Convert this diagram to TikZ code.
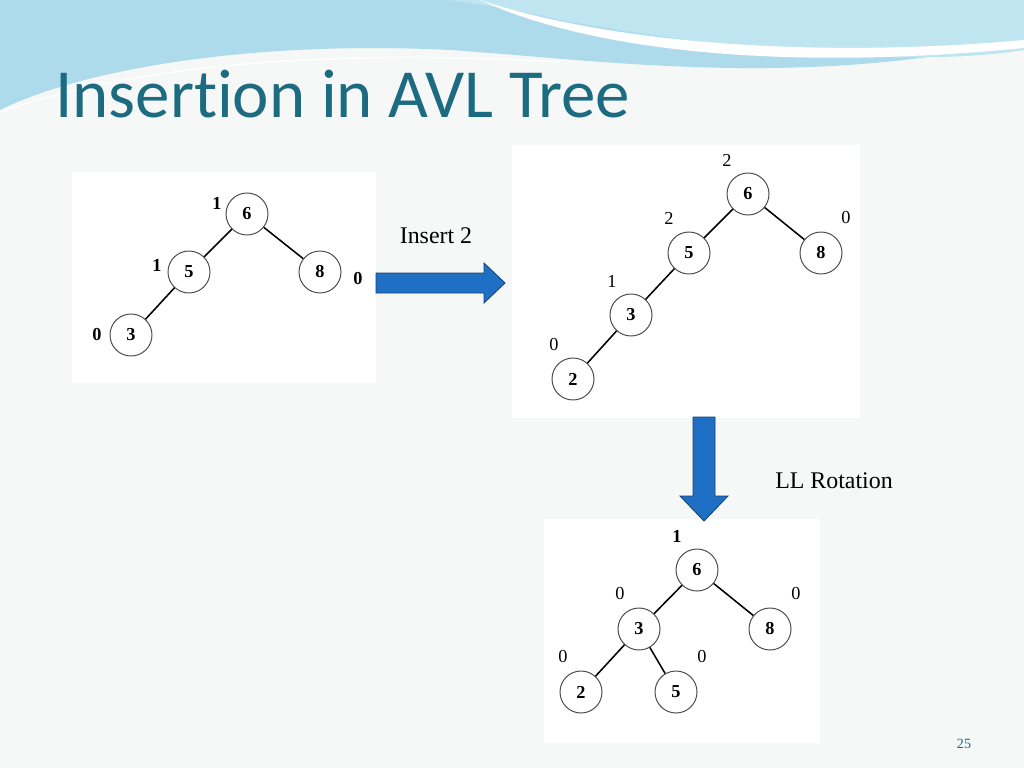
\documentclass[tikz,border=0pt]{standalone}
\usepackage{fontspec}
\setmainfont{Liberation Serif}
\newfontfamily\titlefont[Ligatures={NoCommon,NoDiscretionary}]{Carlito}
\definecolor{bg}{HTML}{F6F7F7}
\definecolor{titlec}{HTML}{1C6B80}
\definecolor{arrowc}{HTML}{1F6FC4}
\definecolor{waveA}{HTML}{8CCBE3}
\definecolor{waveB}{HTML}{BFE6F0}
\tikzset{
  tn/.style={circle,draw=black!70,line width=0.7pt,fill=white,minimum size=42*0.025cm,inner sep=0pt,font=\fontsize{13}{13}\selectfont\bfseries},
  bl/.style={font=\fontsize{13}{13}\selectfont\bfseries,inner sep=0pt},
  rl/.style={font=\fontsize{13}{13}\selectfont,inner sep=0pt},
  ed/.style={line width=1.1pt,black},
  panel/.style={fill=white,draw=none},
  bigarrow/.style={fill=arrowc,draw=arrowc!60!black,line width=0.6pt}
}
\begin{document}
\begin{tikzpicture}[x=0.025cm,y=-0.025cm]
\fill[bg] (0,0) rectangle (1024,768);
\useasboundingbox (0,0) rectangle (1024,768);
% top waves
\fill[waveA!70] (0,0) -- (1024,0) -- (1024,40) .. controls (800,90) and (600,60) .. (450,50) .. controls (250,40) and (80,70) .. (0,110) -- cycle;
\fill[waveB] (450,0) -- (1024,0) -- (1024,50) .. controls (900,70) and (700,45) .. (560,20) .. controls (520,10) and (480,5) .. (450,0) -- cycle;
\fill[white] (480,0) .. controls (600,40) and (800,60) .. (1024,40) -- (1024,48) .. controls (800,70) and (600,55) .. (480,0) -- cycle;
\draw[white,line width=1pt] (0,112) .. controls (150,60) and (350,50) .. (560,62);
\node[anchor=base west,text=titlec,inner sep=0pt,font=\titlefont\fontsize{49}{49}\selectfont] (title) at (55,118) {Insertion in AVL Tree};
% panels
\fill[panel] (72,172) rectangle (376,383);
\fill[panel] (512,145) rectangle (860,418);
\fill[panel] (544,519) rectangle (820,743);
% tree 1
\node[tn] (a6) at (247,214) {6};
\node[tn] (a5) at (189,272) {5};
\node[tn] (a8) at (320,272) {8};
\node[tn] (a3) at (131,335) {3};
\draw[ed] (a6) -- (a5); \draw[ed] (a6) -- (a8); \draw[ed] (a5) -- (a3);
\node[bl] (la6) at (217,203) {1};
\node[bl] (la5) at (157,265) {1};
\node[bl] (la8) at (358,279) {0};
\node[bl] (la3) at (97,335) {0};
% tree 2
\node[tn] (b6) at (748,194) {6};
\node[tn] (b5) at (689,253) {5};
\node[tn] (b8) at (821,253) {8};
\node[tn] (b3) at (631,315) {3};
\node[tn] (b2) at (573,379) {2};
\draw[ed] (b6) -- (b5); \draw[ed] (b6) -- (b8); \draw[ed] (b5) -- (b3); \draw[ed] (b3) -- (b2);
\node[rl] (lb6) at (727,160) {2};
\node[rl] (lb5) at (669,218) {2};
\node[rl] (lb8) at (846,218) {0};
\node[rl] (lb3) at (612,281) {1};
\node[rl] (lb2) at (554,345) {0};
% tree 3
\node[tn] (c6) at (697,570) {6};
\node[tn] (c3) at (639,629) {3};
\node[tn] (c8) at (770,629) {8};
\node[tn] (c2) at (581,692) {2};
\node[tn] (c5) at (676,692) {5};
\draw[ed] (c6) -- (c3); \draw[ed] (c6) -- (c8); \draw[ed] (c3) -- (c2); \draw[ed] (c3) -- (c5);
\node[bl] (lc6) at (677,536) {1};
\node[rl] (lc3) at (620,594) {0};
\node[rl] (lc8) at (796,594) {0};
\node[rl] (lc2) at (563,657) {0};
\node[rl] (lc5) at (702,657) {0};
% arrows
\draw[bigarrow] (376,273) -- (484,273) -- (484,263) -- (505,283) -- (484,303) -- (484,293) -- (376,293) -- cycle;
\draw[bigarrow] (693,417) -- (715,417) -- (715,496) -- (728,496) -- (704,521) -- (680,496) -- (693,496) -- cycle;
\node[font=\fontsize{17}{17}\selectfont] (t1) at (436,236) {Insert 2};
\node[font=\fontsize{17}{17}\selectfont] (t2) at (834,481) {LL Rotation};
\node[text=titlec,font=\fontsize{10}{10}\selectfont] (pg) at (964,744) {25};
\end{tikzpicture}
\end{document}
